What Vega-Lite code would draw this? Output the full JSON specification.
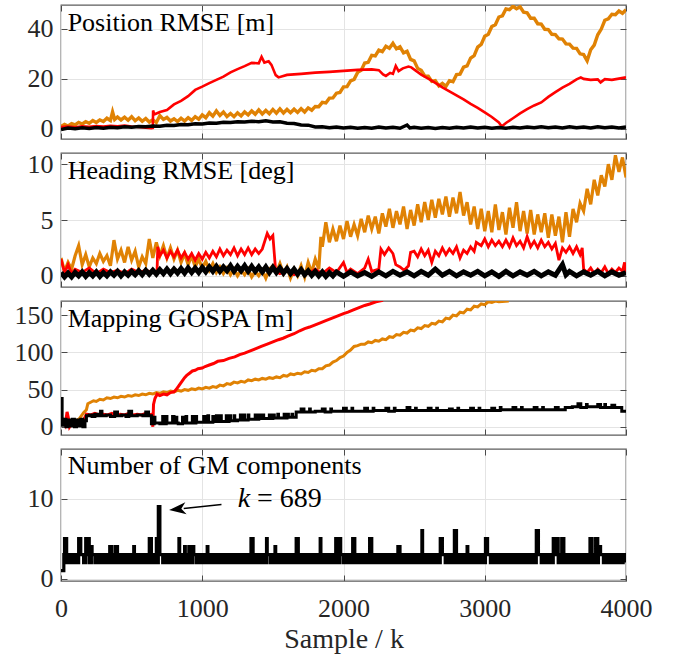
{
"$schema": "https://vega.github.io/schema/vega-lite/v6.json",
"background": "white",
"padding": {"left": 13, "top": 3, "right": 5, "bottom": 5},
"config": {
  "font": "Liberation Serif, DejaVu Serif, serif",
  "text": {"font": "Liberation Serif, DejaVu Serif, serif"},
  "view": {"stroke": "#5c5c5c", "strokeWidth": 1.3},
  "axis": {"domain": false, "tickColor": "#4a4a4a", "tickSize": -6, "tickWidth": 1, "gridColor": "#e4e4e4", "gridWidth": 1, "labelFont": "Liberation Serif, DejaVu Serif, serif", "labelFontSize": 26, "labelColor": "#262626", "labelPadding": 14, "labelFlush": false, "labelOverlap": false, "labelBound": false, "format": "d", "titleFont": "Liberation Serif, DejaVu Serif, serif", "titleFontSize": 28, "titleFontWeight": "normal", "titleColor": "#262626"}
},
"datasets": {
"p1o": [{"k":0,"v":1.0},{"k":25,"v":1.8},{"k":50,"v":1.2},{"k":75,"v":2.1},{"k":100,"v":1.6},{"k":125,"v":2.6},{"k":150,"v":2.0},{"k":175,"v":2.9},{"k":200,"v":2.3},{"k":225,"v":3.4},{"k":250,"v":2.6},{"k":275,"v":3.6},{"k":300,"v":3.0},{"k":325,"v":4.3},{"k":350,"v":3.4},{"k":365,"v":6.8},{"k":380,"v":3.8},{"k":400,"v":4.8},{"k":425,"v":3.6},{"k":450,"v":4.7},{"k":475,"v":3.5},{"k":500,"v":4.9},{"k":525,"v":3.3},{"k":550,"v":4.4},{"k":575,"v":3.1},{"k":600,"v":4.2},{"k":625,"v":2.8},{"k":650,"v":3.7},{"k":675,"v":2.6},{"k":700,"v":5.3},{"k":725,"v":3.8},{"k":750,"v":4.6},{"k":775,"v":3.2},{"k":800,"v":4.1},{"k":825,"v":3.0},{"k":850,"v":4.3},{"k":875,"v":3.2},{"k":900,"v":4.5},{"k":925,"v":3.4},{"k":950,"v":4.9},{"k":975,"v":3.9},{"k":1000,"v":5.6},{"k":1025,"v":4.5},{"k":1050,"v":6.5},{"k":1075,"v":5.1},{"k":1100,"v":7.2},{"k":1125,"v":5.4},{"k":1150,"v":6.8},{"k":1175,"v":5.0},{"k":1200,"v":6.2},{"k":1225,"v":4.9},{"k":1250,"v":6.4},{"k":1275,"v":5.2},{"k":1300,"v":6.8},{"k":1325,"v":5.6},{"k":1350,"v":7.2},{"k":1375,"v":5.9},{"k":1400,"v":7.6},{"k":1425,"v":6.0},{"k":1450,"v":7.4},{"k":1475,"v":6.1},{"k":1500,"v":7.8},{"k":1525,"v":6.3},{"k":1550,"v":8.0},{"k":1575,"v":6.4},{"k":1600,"v":7.8},{"k":1625,"v":6.5},{"k":1650,"v":7.9},{"k":1675,"v":6.6},{"k":1700,"v":8.1},{"k":1725,"v":6.8},{"k":1750,"v":8.4},{"k":1775,"v":7.5},{"k":1800,"v":9.0},{"k":1825,"v":8.9},{"k":1850,"v":10.6},{"k":1875,"v":10.4},{"k":1900,"v":12.3},{"k":1925,"v":12.4},{"k":1950,"v":14.3},{"k":1975,"v":14.6},{"k":2000,"v":16.8},{"k":2025,"v":16.9},{"k":2050,"v":19.2},{"k":2075,"v":19.8},{"k":2100,"v":22.6},{"k":2125,"v":23.4},{"k":2150,"v":26.3},{"k":2175,"v":26.6},{"k":2200,"v":29.4},{"k":2225,"v":29.2},{"k":2250,"v":31.5},{"k":2275,"v":30.9},{"k":2300,"v":33.0},{"k":2325,"v":32.2},{"k":2350,"v":34.2},{"k":2375,"v":32.0},{"k":2400,"v":32.8},{"k":2425,"v":30.4},{"k":2450,"v":31.0},{"k":2475,"v":27.8},{"k":2500,"v":27.2},{"k":2525,"v":24.2},{"k":2550,"v":23.4},{"k":2575,"v":21.2},{"k":2600,"v":21.1},{"k":2625,"v":19.0},{"k":2650,"v":19.3},{"k":2675,"v":17.2},{"k":2700,"v":18.2},{"k":2725,"v":17.0},{"k":2750,"v":19.3},{"k":2775,"v":18.9},{"k":2800,"v":21.7},{"k":2825,"v":21.9},{"k":2850,"v":24.7},{"k":2875,"v":25.2},{"k":2900,"v":28.3},{"k":2925,"v":29.3},{"k":2950,"v":32.7},{"k":2975,"v":33.8},{"k":3000,"v":37.0},{"k":3025,"v":37.8},{"k":3050,"v":40.9},{"k":3075,"v":41.6},{"k":3100,"v":44.7},{"k":3125,"v":45.2},{"k":3150,"v":47.9},{"k":3175,"v":47.6},{"k":3200,"v":49.0},{"k":3225,"v":48.0},{"k":3250,"v":48.8},{"k":3275,"v":46.6},{"k":3300,"v":46.4},{"k":3325,"v":44.2},{"k":3350,"v":44.2},{"k":3375,"v":42.0},{"k":3400,"v":41.9},{"k":3425,"v":39.8},{"k":3450,"v":39.7},{"k":3475,"v":37.8},{"k":3500,"v":37.7},{"k":3525,"v":36.0},{"k":3550,"v":35.9},{"k":3575,"v":34.0},{"k":3600,"v":33.9},{"k":3625,"v":32.3},{"k":3650,"v":32.2},{"k":3675,"v":30.0},{"k":3700,"v":29.7},{"k":3725,"v":27.2},{"k":3750,"v":31.6},{"k":3775,"v":33.5},{"k":3800,"v":37.6},{"k":3825,"v":39.9},{"k":3850,"v":43.4},{"k":3875,"v":44.0},{"k":3900,"v":45.8},{"k":3925,"v":45.6},{"k":3950,"v":47.1},{"k":3975,"v":46.2},{"k":4000,"v":47.6}],
"p1r": [{"k":0,"v":0.8},{"k":50,"v":1.0},{"k":100,"v":0.7},{"k":150,"v":1.1},{"k":200,"v":0.9},{"k":250,"v":1.2},{"k":300,"v":1.0},{"k":350,"v":1.3},{"k":400,"v":1.1},{"k":450,"v":1.4},{"k":500,"v":1.0},{"k":550,"v":0.8},{"k":600,"v":0.5},{"k":640,"v":0.3},{"k":650,"v":0.4},{"k":652,"v":7.4},{"k":660,"v":5.8},{"k":700,"v":6.8},{"k":750,"v":7.6},{"k":800,"v":9.8},{"k":850,"v":11.2},{"k":900,"v":13.1},{"k":950,"v":15.6},{"k":1000,"v":16.9},{"k":1050,"v":18.3},{"k":1100,"v":19.6},{"k":1150,"v":20.9},{"k":1200,"v":22.6},{"k":1250,"v":23.9},{"k":1300,"v":25.1},{"k":1350,"v":26.4},{"k":1400,"v":26.2},{"k":1420,"v":28.8},{"k":1440,"v":26.5},{"k":1470,"v":27.0},{"k":1490,"v":25.6},{"k":1520,"v":21.5},{"k":1540,"v":20.6},{"k":1600,"v":21.6},{"k":1700,"v":22.0},{"k":1800,"v":22.5},{"k":1900,"v":22.8},{"k":2000,"v":23.2},{"k":2100,"v":23.6},{"k":2200,"v":23.8},{"k":2250,"v":23.5},{"k":2280,"v":21.8},{"k":2300,"v":21.2},{"k":2330,"v":22.4},{"k":2350,"v":22.0},{"k":2370,"v":25.2},{"k":2390,"v":23.1},{"k":2420,"v":24.2},{"k":2460,"v":24.9},{"k":2480,"v":24.6},{"k":2550,"v":21.7},{"k":2600,"v":20.1},{"k":2650,"v":18.4},{"k":2700,"v":16.6},{"k":2750,"v":15.0},{"k":2800,"v":13.4},{"k":2850,"v":11.8},{"k":2900,"v":10.0},{"k":2950,"v":8.4},{"k":3000,"v":6.6},{"k":3050,"v":4.8},{"k":3100,"v":2.6},{"k":3120,"v":1.0},{"k":3150,"v":2.4},{"k":3200,"v":4.3},{"k":3250,"v":6.2},{"k":3300,"v":7.9},{"k":3350,"v":9.4},{"k":3400,"v":10.6},{"k":3450,"v":12.8},{"k":3500,"v":14.7},{"k":3550,"v":16.5},{"k":3600,"v":18.0},{"k":3650,"v":19.8},{"k":3680,"v":20.6},{"k":3700,"v":20.0},{"k":3750,"v":19.6},{"k":3800,"v":19.8},{"k":3820,"v":18.6},{"k":3850,"v":19.9},{"k":3900,"v":19.6},{"k":3950,"v":20.1},{"k":4000,"v":20.6}],
"p1b": [{"k":0,"v":-0.2},{"k":50,"v":0.4},{"k":100,"v":0.1},{"k":150,"v":0.5},{"k":200,"v":0.2},{"k":250,"v":0.6},{"k":300,"v":0.3},{"k":350,"v":0.7},{"k":400,"v":0.5},{"k":450,"v":0.9},{"k":500,"v":0.7},{"k":550,"v":1.0},{"k":600,"v":0.9},{"k":650,"v":1.2},{"k":700,"v":1.1},{"k":750,"v":1.5},{"k":800,"v":1.4},{"k":850,"v":1.8},{"k":900,"v":1.7},{"k":950,"v":2.1},{"k":1000,"v":2.0},{"k":1050,"v":2.4},{"k":1100,"v":2.3},{"k":1150,"v":2.7},{"k":1200,"v":2.6},{"k":1250,"v":2.9},{"k":1300,"v":2.8},{"k":1350,"v":3.1},{"k":1400,"v":2.9},{"k":1450,"v":3.3},{"k":1500,"v":2.8},{"k":1550,"v":2.9},{"k":1600,"v":2.3},{"k":1650,"v":2.2},{"k":1700,"v":1.6},{"k":1750,"v":1.5},{"k":1800,"v":0.8},{"k":1850,"v":0.9},{"k":1900,"v":0.5},{"k":1950,"v":0.8},{"k":2000,"v":0.4},{"k":2050,"v":0.7},{"k":2100,"v":0.3},{"k":2150,"v":0.6},{"k":2200,"v":0.3},{"k":2250,"v":0.8},{"k":2300,"v":0.4},{"k":2350,"v":0.7},{"k":2400,"v":0.3},{"k":2450,"v":1.6},{"k":2470,"v":0.4},{"k":2500,"v":0.7},{"k":2550,"v":0.3},{"k":2600,"v":0.6},{"k":2650,"v":0.2},{"k":2700,"v":0.6},{"k":2750,"v":0.3},{"k":2800,"v":0.7},{"k":2850,"v":0.4},{"k":2900,"v":0.8},{"k":2950,"v":0.4},{"k":3000,"v":0.7},{"k":3050,"v":0.3},{"k":3100,"v":0.6},{"k":3150,"v":0.3},{"k":3200,"v":0.7},{"k":3250,"v":0.4},{"k":3300,"v":0.8},{"k":3350,"v":0.5},{"k":3400,"v":0.9},{"k":3450,"v":0.5},{"k":3500,"v":0.8},{"k":3550,"v":0.4},{"k":3600,"v":0.9},{"k":3650,"v":0.5},{"k":3700,"v":0.8},{"k":3750,"v":0.4},{"k":3800,"v":0.9},{"k":3850,"v":0.5},{"k":3900,"v":0.8},{"k":3950,"v":0.4},{"k":4000,"v":0.8}],
"p2o": [{"k":0,"v":1.6},{"k":25,"v":0.4},{"k":50,"v":1.2},{"k":75,"v":0.6},{"k":100,"v":1.8},{"k":125,"v":2.7},{"k":150,"v":1.0},{"k":175,"v":1.9},{"k":200,"v":0.8},{"k":225,"v":1.6},{"k":250,"v":1.1},{"k":275,"v":2.0},{"k":300,"v":1.3},{"k":325,"v":1.8},{"k":350,"v":0.9},{"k":375,"v":3.2},{"k":400,"v":1.5},{"k":425,"v":2.3},{"k":450,"v":1.2},{"k":475,"v":2.6},{"k":500,"v":1.4},{"k":525,"v":2.2},{"k":550,"v":0.8},{"k":575,"v":1.7},{"k":600,"v":1.1},{"k":625,"v":3.3},{"k":650,"v":1.6},{"k":675,"v":3.0},{"k":700,"v":1.8},{"k":725,"v":2.7},{"k":750,"v":1.6},{"k":775,"v":2.5},{"k":800,"v":1.5},{"k":825,"v":2.3},{"k":850,"v":1.2},{"k":875,"v":2.0},{"k":900,"v":1.0},{"k":925,"v":1.8},{"k":950,"v":0.8},{"k":975,"v":1.5},{"k":1000,"v":0.7},{"k":1025,"v":1.3},{"k":1050,"v":0.5},{"k":1075,"v":1.1},{"k":1100,"v":0.3},{"k":1125,"v":0.8},{"k":1150,"v":0.2},{"k":1175,"v":0.7},{"k":1200,"v":0.1},{"k":1225,"v":0.6},{"k":1250,"v":0.0},{"k":1275,"v":0.5},{"k":1300,"v":0.1},{"k":1325,"v":0.6},{"k":1350,"v":-0.1},{"k":1375,"v":0.4},{"k":1400,"v":0.0},{"k":1425,"v":0.5},{"k":1450,"v":-0.2},{"k":1475,"v":0.6},{"k":1500,"v":0.9},{"k":1525,"v":0.3},{"k":1550,"v":1.1},{"k":1575,"v":0.2},{"k":1600,"v":0.8},{"k":1625,"v":-0.2},{"k":1650,"v":0.6},{"k":1675,"v":0.0},{"k":1700,"v":0.9},{"k":1725,"v":-0.1},{"k":1750,"v":1.2},{"k":1775,"v":0.3},{"k":1800,"v":1.5},{"k":1825,"v":0.6},{"k":1840,"v":3.5},{"k":1850,"v":2.6},{"k":1875,"v":4.8},{"k":1900,"v":3.0},{"k":1925,"v":4.2},{"k":1950,"v":3.1},{"k":1975,"v":4.5},{"k":2000,"v":3.3},{"k":2025,"v":4.9},{"k":2050,"v":3.5},{"k":2075,"v":4.6},{"k":2100,"v":3.6},{"k":2125,"v":5.1},{"k":2150,"v":3.9},{"k":2175,"v":5.4},{"k":2200,"v":4.2},{"k":2225,"v":5.3},{"k":2250,"v":3.8},{"k":2275,"v":5.6},{"k":2300,"v":4.4},{"k":2325,"v":6.0},{"k":2350,"v":4.3},{"k":2375,"v":5.8},{"k":2400,"v":4.6},{"k":2425,"v":6.2},{"k":2450,"v":4.2},{"k":2475,"v":5.9},{"k":2500,"v":4.5},{"k":2525,"v":6.4},{"k":2550,"v":4.8},{"k":2575,"v":6.6},{"k":2600,"v":5.0},{"k":2625,"v":6.8},{"k":2650,"v":5.2},{"k":2675,"v":6.9},{"k":2700,"v":5.5},{"k":2725,"v":7.1},{"k":2750,"v":5.3},{"k":2775,"v":7.0},{"k":2800,"v":5.6},{"k":2825,"v":7.5},{"k":2850,"v":5.4},{"k":2875,"v":6.6},{"k":2900,"v":4.6},{"k":2925,"v":6.2},{"k":2950,"v":4.2},{"k":2975,"v":6.0},{"k":3000,"v":4.0},{"k":3025,"v":5.8},{"k":3050,"v":3.9},{"k":3075,"v":6.4},{"k":3100,"v":4.1},{"k":3125,"v":5.7},{"k":3150,"v":3.7},{"k":3175,"v":6.1},{"k":3200,"v":4.3},{"k":3225,"v":6.6},{"k":3250,"v":4.0},{"k":3275,"v":5.8},{"k":3300,"v":3.8},{"k":3325,"v":5.9},{"k":3350,"v":3.7},{"k":3375,"v":5.5},{"k":3400,"v":3.9},{"k":3425,"v":5.6},{"k":3450,"v":3.4},{"k":3475,"v":5.5},{"k":3500,"v":3.6},{"k":3525,"v":5.3},{"k":3550,"v":3.0},{"k":3575,"v":5.7},{"k":3600,"v":3.5},{"k":3625,"v":6.0},{"k":3650,"v":4.8},{"k":3675,"v":6.5},{"k":3700,"v":5.8},{"k":3725,"v":7.8},{"k":3750,"v":6.4},{"k":3775,"v":8.6},{"k":3800,"v":7.2},{"k":3825,"v":9.0},{"k":3850,"v":8.0},{"k":3875,"v":10.0},{"k":3900,"v":8.6},{"k":3925,"v":10.8},{"k":3950,"v":9.3},{"k":3975,"v":10.6},{"k":4000,"v":8.8}],
"p2r": [{"k":0,"v":1.5},{"k":25,"v":0.3},{"k":50,"v":1.0},{"k":75,"v":0.2},{"k":100,"v":0.6},{"k":150,"v":0.3},{"k":200,"v":0.7},{"k":250,"v":0.2},{"k":300,"v":0.6},{"k":350,"v":0.3},{"k":400,"v":0.5},{"k":450,"v":0.2},{"k":500,"v":0.6},{"k":550,"v":0.3},{"k":600,"v":0.5},{"k":650,"v":0.3},{"k":680,"v":0.4},{"k":685,"v":2.6},{"k":700,"v":1.8},{"k":725,"v":2.3},{"k":750,"v":1.6},{"k":775,"v":2.2},{"k":800,"v":1.7},{"k":825,"v":2.3},{"k":850,"v":1.6},{"k":875,"v":2.1},{"k":900,"v":1.5},{"k":925,"v":2.0},{"k":950,"v":1.4},{"k":975,"v":2.0},{"k":1000,"v":1.5},{"k":1025,"v":2.1},{"k":1050,"v":1.6},{"k":1075,"v":2.2},{"k":1100,"v":1.7},{"k":1125,"v":2.4},{"k":1150,"v":1.8},{"k":1175,"v":2.3},{"k":1200,"v":1.9},{"k":1225,"v":2.5},{"k":1250,"v":1.8},{"k":1275,"v":2.4},{"k":1300,"v":1.9},{"k":1325,"v":2.5},{"k":1350,"v":1.9},{"k":1375,"v":2.4},{"k":1400,"v":2.0},{"k":1425,"v":2.4},{"k":1460,"v":3.8},{"k":1480,"v":3.3},{"k":1500,"v":3.6},{"k":1510,"v":2.0},{"k":1520,"v":0.4},{"k":1550,"v":0.2},{"k":1600,"v":0.5},{"k":1650,"v":0.1},{"k":1700,"v":0.4},{"k":1750,"v":0.2},{"k":1800,"v":0.6},{"k":1850,"v":0.2},{"k":1900,"v":0.7},{"k":1950,"v":0.3},{"k":2000,"v":1.2},{"k":2025,"v":0.3},{"k":2050,"v":0.6},{"k":2100,"v":0.2},{"k":2150,"v":0.7},{"k":2175,"v":1.5},{"k":2200,"v":0.4},{"k":2250,"v":0.6},{"k":2265,"v":2.4},{"k":2290,"v":1.9},{"k":2320,"v":2.5},{"k":2350,"v":2.0},{"k":2370,"v":1.0},{"k":2400,"v":0.8},{"k":2430,"v":0.5},{"k":2460,"v":0.9},{"k":2475,"v":2.1},{"k":2500,"v":2.2},{"k":2525,"v":1.7},{"k":2550,"v":2.4},{"k":2575,"v":1.8},{"k":2600,"v":2.3},{"k":2625,"v":1.2},{"k":2650,"v":2.2},{"k":2675,"v":1.8},{"k":2700,"v":2.5},{"k":2725,"v":1.9},{"k":2750,"v":2.4},{"k":2775,"v":2.0},{"k":2800,"v":2.6},{"k":2825,"v":1.6},{"k":2850,"v":2.3},{"k":2875,"v":2.0},{"k":2900,"v":2.6},{"k":2925,"v":2.2},{"k":2940,"v":3.0},{"k":2975,"v":2.7},{"k":3000,"v":3.3},{"k":3025,"v":2.6},{"k":3050,"v":3.2},{"k":3075,"v":2.7},{"k":3100,"v":3.1},{"k":3125,"v":2.6},{"k":3150,"v":3.2},{"k":3175,"v":2.6},{"k":3200,"v":3.4},{"k":3225,"v":2.7},{"k":3250,"v":3.1},{"k":3275,"v":2.5},{"k":3300,"v":3.5},{"k":3325,"v":2.6},{"k":3350,"v":3.1},{"k":3375,"v":2.5},{"k":3400,"v":3.2},{"k":3425,"v":2.6},{"k":3450,"v":3.0},{"k":3475,"v":2.4},{"k":3500,"v":2.9},{"k":3525,"v":1.4},{"k":3550,"v":2.5},{"k":3575,"v":2.1},{"k":3600,"v":2.6},{"k":3625,"v":2.0},{"k":3650,"v":2.6},{"k":3675,"v":1.9},{"k":3690,"v":2.5},{"k":3700,"v":0.6},{"k":3725,"v":0.3},{"k":3750,"v":0.7},{"k":3775,"v":0.2},{"k":3800,"v":0.6},{"k":3825,"v":0.3},{"k":3850,"v":0.8},{"k":3875,"v":0.2},{"k":3900,"v":0.6},{"k":3925,"v":0.3},{"k":3950,"v":0.7},{"k":3975,"v":0.4},{"k":3990,"v":1.2},{"k":4000,"v":0.3}],
"p2b": [{"k":0,"v":0.3},{"k":25,"v":-0.1},{"k":50,"v":0.25},{"k":75,"v":-0.1},{"k":100,"v":0.3},{"k":125,"v":0.0},{"k":150,"v":0.35},{"k":175,"v":-0.05},{"k":200,"v":0.3},{"k":225,"v":0.0},{"k":250,"v":0.35},{"k":275,"v":-0.05},{"k":300,"v":0.3},{"k":325,"v":0.0},{"k":350,"v":0.35},{"k":375,"v":0.05},{"k":400,"v":0.4},{"k":425,"v":0.0},{"k":450,"v":0.35},{"k":475,"v":0.05},{"k":500,"v":0.4},{"k":525,"v":0.1},{"k":550,"v":0.45},{"k":575,"v":0.1},{"k":600,"v":0.5},{"k":625,"v":0.15},{"k":650,"v":0.5},{"k":675,"v":0.15},{"k":700,"v":0.55},{"k":725,"v":0.2},{"k":750,"v":0.6},{"k":775,"v":0.2},{"k":800,"v":0.6},{"k":825,"v":0.25},{"k":850,"v":0.65},{"k":875,"v":0.25},{"k":900,"v":0.7},{"k":925,"v":0.3},{"k":950,"v":0.7},{"k":975,"v":0.3},{"k":1000,"v":0.75},{"k":1025,"v":0.35},{"k":1050,"v":0.8},{"k":1075,"v":0.4},{"k":1100,"v":0.85},{"k":1125,"v":0.4},{"k":1150,"v":0.8},{"k":1175,"v":0.45},{"k":1200,"v":0.9},{"k":1225,"v":0.4},{"k":1250,"v":0.85},{"k":1275,"v":0.45},{"k":1300,"v":0.9},{"k":1325,"v":0.4},{"k":1350,"v":0.85},{"k":1375,"v":0.4},{"k":1400,"v":0.8},{"k":1425,"v":0.35},{"k":1450,"v":0.8},{"k":1475,"v":0.3},{"k":1500,"v":0.75},{"k":1525,"v":0.3},{"k":1550,"v":0.7},{"k":1575,"v":0.25},{"k":1600,"v":0.65},{"k":1625,"v":0.2},{"k":1650,"v":0.6},{"k":1675,"v":0.15},{"k":1700,"v":0.55},{"k":1725,"v":0.1},{"k":1750,"v":0.45},{"k":1775,"v":0.05},{"k":1800,"v":0.4},{"k":1825,"v":0.0},{"k":1850,"v":0.35},{"k":1875,"v":-0.05},{"k":1900,"v":0.3},{"k":1925,"v":0.0},{"k":1950,"v":0.35},{"k":2000,"v":-0.05},{"k":2050,"v":0.35},{"k":2100,"v":0.0},{"k":2150,"v":0.3},{"k":2200,"v":-0.05},{"k":2250,"v":0.35},{"k":2300,"v":0.0},{"k":2350,"v":0.4},{"k":2400,"v":0.05},{"k":2450,"v":0.35},{"k":2500,"v":0.0},{"k":2550,"v":0.4},{"k":2600,"v":0.05},{"k":2650,"v":0.6},{"k":2700,"v":0.05},{"k":2750,"v":0.4},{"k":2800,"v":0.0},{"k":2850,"v":0.35},{"k":2900,"v":0.05},{"k":2950,"v":0.4},{"k":3000,"v":0.0},{"k":3050,"v":0.35},{"k":3100,"v":-0.05},{"k":3150,"v":0.4},{"k":3200,"v":0.0},{"k":3250,"v":0.35},{"k":3300,"v":0.05},{"k":3350,"v":0.4},{"k":3400,"v":0.0},{"k":3450,"v":0.35},{"k":3500,"v":0.05},{"k":3550,"v":1.0},{"k":3575,"v":0.1},{"k":3600,"v":0.4},{"k":3650,"v":0.0},{"k":3700,"v":0.35},{"k":3750,"v":0.05},{"k":3800,"v":0.4},{"k":3850,"v":0.0},{"k":3900,"v":0.35},{"k":3950,"v":0.05},{"k":4000,"v":0.3}],
"p3o": [{"k":60,"v":2},{"k":100,"v":7},{"k":130,"v":11},{"k":160,"v":19},{"k":180,"v":23},{"k":190,"v":31},{"k":210,"v":33},{"k":230,"v":35},{"k":250,"v":34},{"k":275,"v":37},{"k":300,"v":36},{"k":325,"v":39},{"k":350,"v":38},{"k":375,"v":40},{"k":400,"v":39},{"k":425,"v":41},{"k":450,"v":40},{"k":475,"v":42},{"k":500,"v":41},{"k":525,"v":43},{"k":550,"v":42},{"k":575,"v":44},{"k":600,"v":43},{"k":625,"v":45},{"k":650,"v":44},{"k":675,"v":46},{"k":700,"v":45},{"k":725,"v":47},{"k":750,"v":46},{"k":775,"v":48},{"k":800,"v":47},{"k":825,"v":49},{"k":850,"v":48},{"k":875,"v":50},{"k":900,"v":49},{"k":925,"v":51},{"k":950,"v":50},{"k":975,"v":52},{"k":1000,"v":51},{"k":1025,"v":53},{"k":1050,"v":52},{"k":1075,"v":54},{"k":1100,"v":53},{"k":1125,"v":56},{"k":1150,"v":55},{"k":1175,"v":58},{"k":1200,"v":57},{"k":1225,"v":60},{"k":1250,"v":59},{"k":1275,"v":61},{"k":1300,"v":60},{"k":1325,"v":63},{"k":1350,"v":62},{"k":1375,"v":64},{"k":1400,"v":63},{"k":1425,"v":65},{"k":1450,"v":64},{"k":1475,"v":66},{"k":1500,"v":65},{"k":1525,"v":67},{"k":1550,"v":66},{"k":1575,"v":69},{"k":1600,"v":68},{"k":1625,"v":71},{"k":1650,"v":70},{"k":1675,"v":72},{"k":1700,"v":71},{"k":1725,"v":74},{"k":1750,"v":73},{"k":1775,"v":76},{"k":1800,"v":75},{"k":1825,"v":78},{"k":1850,"v":78},{"k":1875,"v":82},{"k":1900,"v":83},{"k":1925,"v":87},{"k":1950,"v":89},{"k":1975,"v":93},{"k":2000,"v":95},{"k":2025,"v":100},{"k":2050,"v":103},{"k":2075,"v":108},{"k":2100,"v":109},{"k":2125,"v":111},{"k":2150,"v":111},{"k":2175,"v":114},{"k":2200,"v":113},{"k":2225,"v":116},{"k":2250,"v":115},{"k":2275,"v":118},{"k":2300,"v":117},{"k":2325,"v":121},{"k":2350,"v":120},{"k":2375,"v":124},{"k":2400,"v":123},{"k":2425,"v":127},{"k":2450,"v":126},{"k":2475,"v":130},{"k":2500,"v":129},{"k":2525,"v":133},{"k":2550,"v":132},{"k":2575,"v":136},{"k":2600,"v":135},{"k":2625,"v":139},{"k":2650,"v":138},{"k":2675,"v":142},{"k":2700,"v":141},{"k":2725,"v":146},{"k":2750,"v":145},{"k":2775,"v":150},{"k":2800,"v":149},{"k":2825,"v":154},{"k":2850,"v":153},{"k":2875,"v":158},{"k":2900,"v":157},{"k":2925,"v":162},{"k":2950,"v":161},{"k":2975,"v":165},{"k":3000,"v":164},{"k":3025,"v":168},{"k":3050,"v":167},{"k":3075,"v":169},{"k":3100,"v":168},{"k":3170,"v":169}],
"p3r": [{"k":0,"v":5},{"k":15,"v":9},{"k":30,"v":3},{"k":43,"v":20},{"k":52,"v":12},{"k":61,"v":0},{"k":75,"v":4},{"k":100,"v":7},{"k":130,"v":5},{"k":160,"v":9},{"k":180,"v":17},{"k":210,"v":16},{"k":240,"v":18},{"k":270,"v":16},{"k":300,"v":17},{"k":330,"v":16},{"k":360,"v":18},{"k":390,"v":16},{"k":420,"v":17},{"k":450,"v":16},{"k":480,"v":18},{"k":510,"v":16},{"k":540,"v":17},{"k":570,"v":16},{"k":600,"v":18},{"k":630,"v":16},{"k":645,"v":17},{"k":650,"v":0},{"k":655,"v":30},{"k":665,"v":38},{"k":680,"v":44},{"k":700,"v":42},{"k":725,"v":44},{"k":750,"v":43},{"k":775,"v":46},{"k":800,"v":47},{"k":815,"v":50},{"k":830,"v":54},{"k":845,"v":58},{"k":860,"v":62},{"k":875,"v":66},{"k":890,"v":69},{"k":910,"v":72},{"k":930,"v":75},{"k":950,"v":76},{"k":970,"v":78},{"k":1000,"v":79},{"k":1020,"v":81},{"k":1050,"v":83},{"k":1080,"v":85},{"k":1110,"v":88},{"k":1150,"v":89},{"k":1190,"v":92},{"k":1230,"v":94},{"k":1265,"v":97},{"k":1300,"v":99},{"k":1340,"v":102},{"k":1380,"v":105},{"k":1418,"v":108},{"k":1460,"v":111},{"k":1500,"v":114},{"k":1540,"v":117},{"k":1572,"v":119},{"k":1610,"v":122},{"k":1650,"v":125},{"k":1690,"v":129},{"k":1725,"v":132},{"k":1760,"v":134},{"k":1800,"v":137},{"k":1840,"v":140},{"k":1879,"v":143},{"k":1920,"v":146},{"k":1960,"v":149},{"k":2000,"v":152},{"k":2032,"v":154},{"k":2070,"v":157},{"k":2110,"v":160},{"k":2150,"v":163},{"k":2186,"v":165},{"k":2230,"v":168},{"k":2280,"v":170}],
"p3b": [{"k":0,"v":38},{"k":8,"v":2},{"k":20,"v":10},{"k":35,"v":0},{"k":50,"v":9},{"k":65,"v":1},{"k":80,"v":10},{"k":95,"v":0},{"k":110,"v":9},{"k":125,"v":1},{"k":140,"v":10},{"k":155,"v":0},{"k":170,"v":8},{"k":180,"v":15},{"k":200,"v":16},{"k":220,"v":14},{"k":240,"v":17},{"k":260,"v":15},{"k":280,"v":21},{"k":290,"v":15},{"k":320,"v":16},{"k":350,"v":14},{"k":380,"v":20},{"k":400,"v":15},{"k":430,"v":16},{"k":460,"v":14},{"k":480,"v":21},{"k":500,"v":15},{"k":540,"v":16},{"k":580,"v":15},{"k":600,"v":20},{"k":620,"v":15},{"k":636,"v":15},{"k":640,"v":4},{"k":680,"v":5},{"k":700,"v":4},{"k":720,"v":14},{"k":730,"v":4},{"k":760,"v":5},{"k":790,"v":14},{"k":800,"v":5},{"k":830,"v":4},{"k":860,"v":13},{"k":870,"v":5},{"k":900,"v":5},{"k":930,"v":14},{"k":940,"v":5},{"k":980,"v":6},{"k":1010,"v":14},{"k":1020,"v":6},{"k":1060,"v":6},{"k":1100,"v":15},{"k":1110,"v":7},{"k":1150,"v":7},{"k":1190,"v":15},{"k":1200,"v":8},{"k":1250,"v":9},{"k":1290,"v":16},{"k":1300,"v":9},{"k":1350,"v":10},{"k":1400,"v":16},{"k":1410,"v":11},{"k":1450,"v":11},{"k":1500,"v":16},{"k":1510,"v":12},{"k":1560,"v":12},{"k":1600,"v":17},{"k":1610,"v":13},{"k":1660,"v":13},{"k":1665,"v":20},{"k":1700,"v":24},{"k":1720,"v":20},{"k":1800,"v":21},{"k":1850,"v":24},{"k":1870,"v":20},{"k":1950,"v":21},{"k":2000,"v":25},{"k":2020,"v":21},{"k":2100,"v":21},{"k":2150,"v":25},{"k":2170,"v":21},{"k":2250,"v":22},{"k":2300,"v":25},{"k":2320,"v":21},{"k":2400,"v":22},{"k":2450,"v":26},{"k":2470,"v":22},{"k":2550,"v":22},{"k":2600,"v":25},{"k":2620,"v":22},{"k":2700,"v":22},{"k":2750,"v":24},{"k":2770,"v":22},{"k":2850,"v":22},{"k":2900,"v":25},{"k":2920,"v":22},{"k":3000,"v":22},{"k":3050,"v":25},{"k":3070,"v":22},{"k":3150,"v":23},{"k":3200,"v":26},{"k":3220,"v":23},{"k":3300,"v":23},{"k":3350,"v":26},{"k":3370,"v":23},{"k":3450,"v":23},{"k":3500,"v":26},{"k":3520,"v":23},{"k":3560,"v":23},{"k":3570,"v":26},{"k":3620,"v":27},{"k":3660,"v":31},{"k":3680,"v":26},{"k":3750,"v":27},{"k":3800,"v":30},{"k":3820,"v":26},{"k":3880,"v":26},{"k":3900,"v":29},{"k":3920,"v":26},{"k":3960,"v":26},{"k":3970,"v":21},{"k":4000,"v":21},{"k":660,"v":13},{"k":665,"v":5},{"k":745,"v":14},{"k":750,"v":5},{"k":815,"v":13},{"k":820,"v":5},{"k":885,"v":14},{"k":890,"v":5},{"k":955,"v":14},{"k":960,"v":6},{"k":1040,"v":15},{"k":1045,"v":6},{"k":1075,"v":14},{"k":1080,"v":7},{"k":1130,"v":15},{"k":1135,"v":7},{"k":1170,"v":15},{"k":1175,"v":7},{"k":1225,"v":15},{"k":1230,"v":8},{"k":1270,"v":16},{"k":1275,"v":9},{"k":1325,"v":16},{"k":1330,"v":10},{"k":1375,"v":16},{"k":1380,"v":10},{"k":1430,"v":16},{"k":1435,"v":11},{"k":1475,"v":16},{"k":1480,"v":11},{"k":1535,"v":17},{"k":1540,"v":12},{"k":1580,"v":17},{"k":1585,"v":12},{"k":1635,"v":17},{"k":1640,"v":13},{"k":1760,"v":24},{"k":1765,"v":20},{"k":1910,"v":24},{"k":1915,"v":21},{"k":2060,"v":25},{"k":2065,"v":21},{"k":2210,"v":25},{"k":2215,"v":22},{"k":2360,"v":25},{"k":2365,"v":22},{"k":2510,"v":25},{"k":2515,"v":22},{"k":2660,"v":25},{"k":2665,"v":22},{"k":2810,"v":25},{"k":2815,"v":22},{"k":2960,"v":25},{"k":2965,"v":22},{"k":3110,"v":26},{"k":3115,"v":23},{"k":3260,"v":26},{"k":3265,"v":23},{"k":3410,"v":26},{"k":3415,"v":23},{"k":3720,"v":30},{"k":3725,"v":27},{"k":3850,"v":30},{"k":3855,"v":26}],
"p4b": [{"k":0,"v":1},{"k":20,"v":3},{"k":40,"v":2},{"k":60,"v":3},{"k":80,"v":2},{"k":100,"v":3},{"k":120,"v":2},{"k":140,"v":3},{"k":160,"v":2},{"k":180,"v":3},{"k":200,"v":2},{"k":220,"v":3},{"k":240,"v":2},{"k":260,"v":3},{"k":280,"v":2},{"k":300,"v":3},{"k":320,"v":2},{"k":340,"v":3},{"k":360,"v":2},{"k":380,"v":3},{"k":400,"v":2},{"k":420,"v":3},{"k":440,"v":2},{"k":460,"v":3},{"k":480,"v":2},{"k":500,"v":3},{"k":520,"v":2},{"k":540,"v":3},{"k":560,"v":2},{"k":580,"v":3},{"k":600,"v":2},{"k":620,"v":3},{"k":640,"v":2},{"k":660,"v":3},{"k":680,"v":2},{"k":700,"v":3},{"k":720,"v":2},{"k":740,"v":3},{"k":760,"v":2},{"k":780,"v":3},{"k":800,"v":2},{"k":820,"v":3},{"k":840,"v":2},{"k":860,"v":3},{"k":880,"v":2},{"k":900,"v":3},{"k":920,"v":2},{"k":940,"v":3},{"k":960,"v":2},{"k":980,"v":3},{"k":1000,"v":2},{"k":1020,"v":3},{"k":1040,"v":2},{"k":1060,"v":3},{"k":1080,"v":2},{"k":1100,"v":3},{"k":1120,"v":2},{"k":1140,"v":3},{"k":1160,"v":2},{"k":1180,"v":3},{"k":1200,"v":2},{"k":1220,"v":3},{"k":1240,"v":2},{"k":1260,"v":3},{"k":1280,"v":2},{"k":1300,"v":3},{"k":1320,"v":2},{"k":1340,"v":3},{"k":1360,"v":2},{"k":1380,"v":3},{"k":1400,"v":2},{"k":1420,"v":3},{"k":1440,"v":2},{"k":1460,"v":3},{"k":1480,"v":2},{"k":1500,"v":3},{"k":1520,"v":2},{"k":1540,"v":3},{"k":1560,"v":2},{"k":1580,"v":3},{"k":1600,"v":2},{"k":1620,"v":3},{"k":1640,"v":2},{"k":1660,"v":3},{"k":1680,"v":2},{"k":1700,"v":3},{"k":1720,"v":2},{"k":1740,"v":3},{"k":1760,"v":2},{"k":1780,"v":3},{"k":1800,"v":2},{"k":1820,"v":3},{"k":1840,"v":2},{"k":1860,"v":3},{"k":1880,"v":2},{"k":1900,"v":3},{"k":1920,"v":2},{"k":1940,"v":3},{"k":1960,"v":2},{"k":1980,"v":3},{"k":2000,"v":2},{"k":2020,"v":3},{"k":2040,"v":2},{"k":2060,"v":3},{"k":2080,"v":2},{"k":2100,"v":3},{"k":2120,"v":2},{"k":2140,"v":3},{"k":2160,"v":2},{"k":2180,"v":3},{"k":2200,"v":2},{"k":2220,"v":3},{"k":2240,"v":2},{"k":2260,"v":3},{"k":2280,"v":2},{"k":2300,"v":3},{"k":2320,"v":2},{"k":2340,"v":3},{"k":2360,"v":2},{"k":2380,"v":3},{"k":2400,"v":2},{"k":2420,"v":3},{"k":2440,"v":2},{"k":2460,"v":3},{"k":2480,"v":2},{"k":2500,"v":3},{"k":2520,"v":2},{"k":2540,"v":3},{"k":2560,"v":2},{"k":2580,"v":3},{"k":2600,"v":2},{"k":2620,"v":3},{"k":2640,"v":2},{"k":2660,"v":3},{"k":2680,"v":2},{"k":2700,"v":3},{"k":2720,"v":2},{"k":2740,"v":3},{"k":2760,"v":2},{"k":2780,"v":3},{"k":2800,"v":2},{"k":2820,"v":3},{"k":2840,"v":2},{"k":2860,"v":3},{"k":2880,"v":2},{"k":2900,"v":3},{"k":2920,"v":2},{"k":2940,"v":3},{"k":2960,"v":2},{"k":2980,"v":3},{"k":3000,"v":2},{"k":3020,"v":3},{"k":3040,"v":2},{"k":3060,"v":3},{"k":3080,"v":2},{"k":3100,"v":3},{"k":3120,"v":2},{"k":3140,"v":3},{"k":3160,"v":2},{"k":3180,"v":3},{"k":3200,"v":2},{"k":3220,"v":3},{"k":3240,"v":2},{"k":3260,"v":3},{"k":3280,"v":2},{"k":3300,"v":3},{"k":3320,"v":2},{"k":3340,"v":3},{"k":3360,"v":2},{"k":3380,"v":3},{"k":3400,"v":2},{"k":3420,"v":3},{"k":3440,"v":2},{"k":3460,"v":3},{"k":3480,"v":2},{"k":3500,"v":3},{"k":3520,"v":2},{"k":3540,"v":3},{"k":3560,"v":2},{"k":3580,"v":3},{"k":3600,"v":2},{"k":3620,"v":3},{"k":3640,"v":2},{"k":3660,"v":3},{"k":3680,"v":2},{"k":3700,"v":3},{"k":3720,"v":2},{"k":3740,"v":3},{"k":3760,"v":2},{"k":3780,"v":3},{"k":3800,"v":2},{"k":3820,"v":3},{"k":3840,"v":2},{"k":3860,"v":3},{"k":3880,"v":2},{"k":3900,"v":3},{"k":3920,"v":2},{"k":3940,"v":3},{"k":3960,"v":2},{"k":3980,"v":3},{"k":4000,"v":2},{"k":25,"v":5},{"k":125,"v":5},{"k":175,"v":5},{"k":185,"v":5},{"k":215,"v":4},{"k":345,"v":4},{"k":385,"v":4},{"k":515,"v":4},{"k":625,"v":5},{"k":675,"v":5},{"k":689,"v":9},{"k":835,"v":5},{"k":875,"v":4},{"k":905,"v":4},{"k":935,"v":4},{"k":1035,"v":4},{"k":1345,"v":5},{"k":1455,"v":5},{"k":1515,"v":4},{"k":1665,"v":5},{"k":1835,"v":5},{"k":1945,"v":5},{"k":1975,"v":5},{"k":2065,"v":5},{"k":2185,"v":5},{"k":2385,"v":4},{"k":2395,"v":4},{"k":2555,"v":6},{"k":2685,"v":5},{"k":2785,"v":6},{"k":2795,"v":6},{"k":2875,"v":4},{"k":3005,"v":5},{"k":3365,"v":6},{"k":3485,"v":5},{"k":3515,"v":5},{"k":3545,"v":5},{"k":3745,"v":5},{"k":3785,"v":5},{"k":3805,"v":4}]
},
"bounds": "flush",
"spacing": 14,
"vconcat": [
{
"width": 565, "height": 134,
"resolve": {"axis": {"x": "independent", "y": "independent"}},
"layer": [
{"data": {"name": "p1o"}, "mark": {"type": "line", "color": "#E08204", "strokeWidth": 3.4, "clip": true},
 "encoding": {"x": {"field": "k", "type": "quantitative", "scale": {"domain": [0, 4000], "nice": false, "zero": false}, "axis": {"orient": "bottom", "labels": false, "values": [0, 1000, 2000, 3000, 4000], "title": null}},
  "y": {"field": "v", "type": "quantitative", "scale": {"domain": [-4, 49.5], "nice": false, "zero": false}, "axis": {"orient": "left", "values": [0, 20, 40], "title": null}}}},
{"data": {"name": "p1r"}, "mark": {"type": "line", "color": "#FF0000", "strokeWidth": 2.6, "clip": true},
 "encoding": {"x": {"field": "k", "type": "quantitative", "scale": {"domain": [0, 4000], "nice": false, "zero": false}, "axis": {"orient": "top", "labels": false, "grid": false, "values": [0, 1000, 2000, 3000, 4000], "title": null}},
  "y": {"field": "v", "type": "quantitative", "scale": {"domain": [-4, 49.5], "nice": false, "zero": false}, "axis": {"orient": "right", "labels": false, "grid": false, "values": [0, 20, 40], "title": null}}}},
{"data": {"name": "p1b"}, "mark": {"type": "line", "color": "#000000", "strokeWidth": 3.4, "clip": true},
 "encoding": {"x": {"field": "k", "type": "quantitative", "scale": {"domain": [0, 4000], "nice": false, "zero": false}, "axis": null},
  "y": {"field": "v", "type": "quantitative", "scale": {"domain": [-4, 49.5], "nice": false, "zero": false}, "axis": null}}},
{"data": {"values": [{"k": 47, "v": 39.3, "t": "Position RMSE [m]"}]}, "mark": {"type": "text", "align": "left", "baseline": "alphabetic", "fontSize": 26, "color": "#000000"},
 "encoding": {"x": {"field": "k", "type": "quantitative", "scale": {"domain": [0, 4000], "nice": false, "zero": false}, "axis": null},
  "y": {"field": "v", "type": "quantitative", "scale": {"domain": [-4, 49.5], "nice": false, "zero": false}, "axis": null}, "text": {"field": "t"}}}
]
},
{
"width": 565, "height": 134,
"resolve": {"axis": {"x": "independent", "y": "independent"}},
"layer": [
{"data": {"name": "p2o"}, "mark": {"type": "line", "color": "#E08204", "strokeWidth": 3.2, "clip": true},
 "encoding": {"x": {"field": "k", "type": "quantitative", "scale": {"domain": [0, 4000], "nice": false, "zero": false}, "axis": {"orient": "bottom", "labels": false, "values": [0, 1000, 2000, 3000, 4000], "title": null}},
  "y": {"field": "v", "type": "quantitative", "scale": {"domain": [-1, 11], "nice": false, "zero": false}, "axis": {"orient": "left", "values": [0, 5, 10], "title": null}}}},
{"data": {"name": "p2r"}, "mark": {"type": "line", "color": "#FF0000", "strokeWidth": 2.8, "clip": true},
 "encoding": {"x": {"field": "k", "type": "quantitative", "scale": {"domain": [0, 4000], "nice": false, "zero": false}, "axis": {"orient": "top", "labels": false, "grid": false, "values": [0, 1000, 2000, 3000, 4000], "title": null}},
  "y": {"field": "v", "type": "quantitative", "scale": {"domain": [-1, 11], "nice": false, "zero": false}, "axis": {"orient": "right", "labels": false, "grid": false, "values": [0, 5, 10], "title": null}}}},
{"data": {"name": "p2b"}, "mark": {"type": "line", "color": "#000000", "strokeWidth": 5, "clip": true},
 "encoding": {"x": {"field": "k", "type": "quantitative", "scale": {"domain": [0, 4000], "nice": false, "zero": false}, "axis": null},
  "y": {"field": "v", "type": "quantitative", "scale": {"domain": [-1, 11], "nice": false, "zero": false}, "axis": null}}},
{"data": {"values": [{"k": 47, "v": 8.7, "t": "Heading RMSE [deg]"}]}, "mark": {"type": "text", "align": "left", "baseline": "alphabetic", "fontSize": 26, "color": "#000000"},
 "encoding": {"x": {"field": "k", "type": "quantitative", "scale": {"domain": [0, 4000], "nice": false, "zero": false}, "axis": null},
  "y": {"field": "v", "type": "quantitative", "scale": {"domain": [-1, 11], "nice": false, "zero": false}, "axis": null}, "text": {"field": "t"}}}
]
},
{
"width": 565, "height": 134,
"resolve": {"axis": {"x": "independent", "y": "independent"}},
"layer": [
{"data": {"name": "p3o"}, "mark": {"type": "line", "color": "#E08204", "strokeWidth": 3, "clip": true},
 "encoding": {"x": {"field": "k", "type": "quantitative", "scale": {"domain": [0, 4000], "nice": false, "zero": false}, "axis": {"orient": "bottom", "labels": false, "values": [0, 1000, 2000, 3000, 4000], "title": null}},
  "y": {"field": "v", "type": "quantitative", "scale": {"domain": [-11, 169], "nice": false, "zero": false}, "axis": {"orient": "left", "values": [0, 50, 100, 150], "title": null}}}},
{"data": {"name": "p3r"}, "mark": {"type": "line", "color": "#FF0000", "strokeWidth": 3, "clip": true},
 "encoding": {"x": {"field": "k", "type": "quantitative", "scale": {"domain": [0, 4000], "nice": false, "zero": false}, "axis": {"orient": "top", "labels": false, "grid": false, "values": [0, 1000, 2000, 3000, 4000], "title": null}},
  "y": {"field": "v", "type": "quantitative", "scale": {"domain": [-11, 169], "nice": false, "zero": false}, "axis": {"orient": "right", "labels": false, "grid": false, "values": [0, 50, 100, 150], "title": null}}}},
{"data": {"name": "p3b"}, "mark": {"type": "line", "color": "#000000", "strokeWidth": 3, "clip": true, "interpolate": "step-after"},
 "encoding": {"x": {"field": "k", "type": "quantitative", "scale": {"domain": [0, 4000], "nice": false, "zero": false}, "axis": null},
  "y": {"field": "v", "type": "quantitative", "scale": {"domain": [-11, 169], "nice": false, "zero": false}, "axis": null}}},
{"data": {"values": [{"k": 47, "v": 134.6, "t": "Mapping GOSPA [m]"}]}, "mark": {"type": "text", "align": "left", "baseline": "alphabetic", "fontSize": 26, "color": "#000000"},
 "encoding": {"x": {"field": "k", "type": "quantitative", "scale": {"domain": [0, 4000], "nice": false, "zero": false}, "axis": null},
  "y": {"field": "v", "type": "quantitative", "scale": {"domain": [-11, 169], "nice": false, "zero": false}, "axis": null}, "text": {"field": "t"}}}
]
},
{
"width": 565, "height": 132,
"resolve": {"axis": {"x": "independent", "y": "independent"}},
"layer": [
{"data": {"name": "p4b"}, "mark": {"type": "line", "color": "#000000", "strokeWidth": 3.2, "clip": true, "interpolate": "step-after"},
 "encoding": {"x": {"field": "k", "type": "quantitative", "scale": {"domain": [0, 4000], "nice": false, "zero": false}, "axis": {"orient": "bottom", "values": [0, 1000, 2000, 3000, 4000], "title": "Sample / k", "labelPadding": 20, "titlePadding": 4}},
  "y": {"field": "v", "type": "quantitative", "scale": {"domain": [-0.3, 16.2], "nice": false, "zero": false}, "axis": {"orient": "left", "values": [0, 10], "title": null}}}},
{"data": {"values": [{"k": 1136, "v": 9.26, "k2": 869, "v2": 8.76}]}, "mark": {"type": "rule", "color": "#000000", "strokeWidth": 1.3},
 "encoding": {"x": {"field": "k", "type": "quantitative", "scale": {"domain": [0, 4000], "nice": false, "zero": false}, "axis": {"orient": "top", "labels": false, "grid": false, "values": [0, 1000, 2000, 3000, 4000], "title": null}},
  "y": {"field": "v", "type": "quantitative", "scale": {"domain": [-0.3, 16.2], "nice": false, "zero": false}, "axis": {"orient": "right", "labels": false, "grid": false, "values": [0, 10], "title": null}},
  "x2": {"field": "k2"}, "y2": {"field": "v2"}}},
{"data": {"values": [{"k": 765, "v": 8.56}]}, "mark": {"type": "point", "filled": true, "color": "#000000", "opacity": 1, "size": 289, "angle": -6.2, "shape": "M0,0L2,-0.7L1.45,0L2,0.7Z"},
 "encoding": {"x": {"field": "k", "type": "quantitative", "scale": {"domain": [0, 4000], "nice": false, "zero": false}, "axis": null},
  "y": {"field": "v", "type": "quantitative", "scale": {"domain": [-0.3, 16.2], "nice": false, "zero": false}, "axis": null}}},
{"data": {"values": [{"k": 47, "v": 13.1, "t": "Number of GM components"}]}, "mark": {"type": "text", "align": "left", "baseline": "alphabetic", "fontSize": 26, "color": "#000000"},
 "encoding": {"x": {"field": "k", "type": "quantitative", "scale": {"domain": [0, 4000], "nice": false, "zero": false}, "axis": null},
  "y": {"field": "v", "type": "quantitative", "scale": {"domain": [-0.3, 16.2], "nice": false, "zero": false}, "axis": null}, "text": {"field": "t"}}},
{"data": {"values": [{"k": 1251, "v": 8.9, "t": "k"}]}, "mark": {"type": "text", "align": "left", "baseline": "alphabetic", "fontSize": 28, "fontStyle": "italic", "color": "#000000"},
 "encoding": {"x": {"field": "k", "type": "quantitative", "scale": {"domain": [0, 4000], "nice": false, "zero": false}, "axis": null},
  "y": {"field": "v", "type": "quantitative", "scale": {"domain": [-0.3, 16.2], "nice": false, "zero": false}, "axis": null}, "text": {"field": "t"}}},
{"data": {"values": [{"k": 1388, "v": 8.9, "t": "= 689"}]}, "mark": {"type": "text", "align": "left", "baseline": "alphabetic", "fontSize": 28, "color": "#000000"},
 "encoding": {"x": {"field": "k", "type": "quantitative", "scale": {"domain": [0, 4000], "nice": false, "zero": false}, "axis": null},
  "y": {"field": "v", "type": "quantitative", "scale": {"domain": [-0.3, 16.2], "nice": false, "zero": false}, "axis": null}, "text": {"field": "t"}}}
]
}
]
}
